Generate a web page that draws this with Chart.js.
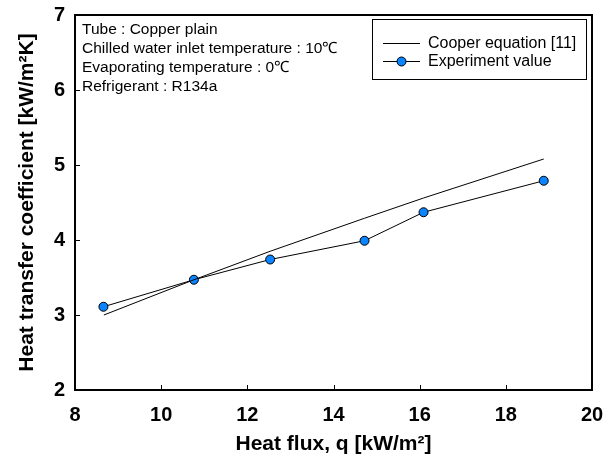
<!DOCTYPE html>
<html>
<head>
<meta charset="utf-8">
<script src="https://cdn.jsdelivr.net/npm/chart.js@4.4.1/dist/chart.umd.min.js"></script>
<style>
  html, body { margin: 0; padding: 0; background: #fff; }
  #wrap { width: 611px; height: 462px; }
</style>
</head>
<body>
<div id="wrap"><canvas id="chart" width="611" height="462"></canvas></div>
<script>
// data
const expQ = [8.66, 10.76, 12.53, 14.72, 16.09, 18.88];
const expH = [3.11, 3.47, 3.74, 3.99, 4.37, 4.79];
const cooperQ = [8.67, 10.76, 12.53, 14.72, 16.09, 18.88];
const cooperH = [3.0, 3.47, 3.85, 4.29, 4.56, 5.08];

const xTicks = [8, 10, 12, 14, 16, 18, 20];
const yTicks = [2, 3, 4, 5, 6, 7];

const seriesNames = ["Cooper equation [11]", "Experiment value"];
const notes = [
  "Tube : Copper plain",
  "Chilled water inlet temperature : 10\u2103",
  "Evaporating temperature : 0\u2103",
  "Refrigerant : R134a"
];

const toPoints = (xs, ys) => xs.map((x, i) => ({ x: x, y: ys[i] }));

const FONT = "Arial, 'Liberation Sans', sans-serif";
const markerBlue = "#0a84ff";

// frame, inward ticks, note text and legend box
const decor = {
  id: "decor",
  afterDraw(chart) {
    const ctx = chart.ctx;
    const a = chart.chartArea;
    const xs = chart.scales.x;
    const ys = chart.scales.y;
    ctx.save();
    ctx.strokeStyle = "#000";
    ctx.lineWidth = 1;
    xTicks.slice(1, -1).forEach(v => {
      const px = Math.round(xs.getPixelForValue(v)) + 0.5;
      ctx.beginPath();
      ctx.moveTo(px, a.bottom);
      ctx.lineTo(px, a.bottom - 5);
      ctx.stroke();
    });
    yTicks.slice(1, -1).forEach(v => {
      const py = Math.round(ys.getPixelForValue(v)) + 0.5;
      ctx.beginPath();
      ctx.moveTo(a.left, py);
      ctx.lineTo(a.left + 5, py);
      ctx.stroke();
    });
    ctx.lineWidth = 2;
    ctx.strokeRect(a.left, a.top, a.right - a.left, a.bottom - a.top);

    // notes
    ctx.fillStyle = "#000";
    ctx.font = "15.5px " + FONT;
    ctx.textBaseline = "middle";
    ctx.textAlign = "left";
    notes.forEach((t, i) => ctx.fillText(t, a.left + 7, a.top + 15 + i * 19));

    // legend
    const bx = a.right - 220, by = a.top + 4, bw = 214, bh = 60;
    ctx.fillStyle = "#fff";
    ctx.fillRect(bx, by, bw, bh);
    ctx.lineWidth = 1;
    ctx.strokeStyle = "#000";
    ctx.strokeRect(bx + 0.5, by + 0.5, bw, bh);
    ctx.font = "16px " + FONT;
    seriesNames.forEach((name, i) => {
      const ly = by + 24 + i * 18;
      ctx.beginPath();
      ctx.moveTo(bx + 11, ly + 0.5);
      ctx.lineTo(bx + 48, ly + 0.5);
      ctx.stroke();
      if (i === 1) {
        ctx.beginPath();
        ctx.arc(bx + 29.5, ly + 0.5, 4.5, 0, Math.PI * 2);
        ctx.fillStyle = markerBlue;
        ctx.fill();
        ctx.stroke();
      }
      ctx.fillStyle = "#000";
      ctx.fillText(name, bx + 56, ly + 1);
    });
    ctx.restore();
  }
};

const chart = new Chart(document.getElementById("chart"), {
  type: "scatter",
  data: {
    datasets: [
      {
        label: seriesNames[0],
        data: toPoints(cooperQ, cooperH),
        showLine: true,
        borderColor: "#000",
        borderWidth: 1,
        pointRadius: 0,
        tension: 0
      },
      {
        label: seriesNames[1],
        data: toPoints(expQ, expH),
        showLine: true,
        borderColor: "#000",
        borderWidth: 1,
        pointRadius: 4.5,
        pointBackgroundColor: markerBlue,
        pointBorderColor: "#000",
        pointBorderWidth: 1,
        tension: 0
      }
    ]
  },
  options: {
    responsive: false,
    animation: false,
    devicePixelRatio: 1,
    layout: { padding: { top: 15, right: 19, left: 0, bottom: 0 } },
    plugins: { legend: { display: false }, tooltip: { enabled: false } },
    scales: {
      x: {
        type: "linear",
        min: 8,
        max: 20,
        afterBuildTicks: s => { s.ticks = xTicks.map(v => ({ value: v })); },
        afterFit: s => { s.height = 72; s.paddingLeft = 0; s.paddingRight = 0; },
        grid: { display: false, drawTicks: false },
        border: { display: false },
        ticks: { padding: 13, color: "#000", font: { family: FONT, size: 20, weight: "bold" } },
        title: {
          display: true,
          text: "Heat flux, q [kW/m\u00b2]",
          color: "#000",
          padding: { top: 0, bottom: 5 },
          font: { family: FONT, size: 21, weight: "bold" }
        }
      },
      y: {
        type: "linear",
        min: 2,
        max: 7,
        afterBuildTicks: s => { s.ticks = yTicks.map(v => ({ value: v })); },
        afterFit: s => { s.width = 75; s.paddingTop = 0; s.paddingBottom = 0; },
        grid: { display: false, drawTicks: false },
        border: { display: false },
        ticks: { padding: 10, color: "#000", font: { family: FONT, size: 20, weight: "bold" } },
        title: {
          display: true,
          text: "Heat transfer coefficient [kW/m\u00b2K]",
          color: "#000",
          padding: { top: 15, bottom: 0 },
          font: { family: FONT, size: 21, weight: "bold" }
        }
      }
    }
  },
  plugins: [decor]
});
</script>
</body>
</html>
